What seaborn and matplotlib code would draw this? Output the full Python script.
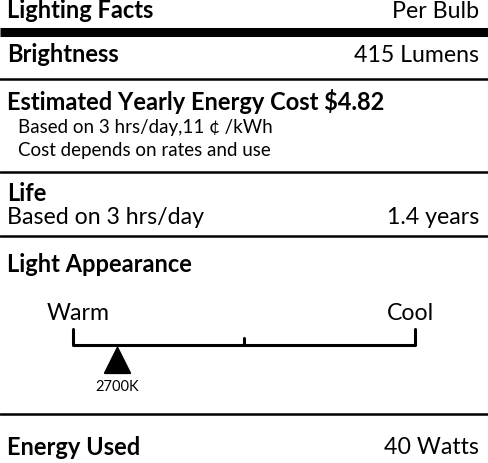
import matplotlib
matplotlib.use("Agg")
import matplotlib.pyplot as plt
import seaborn as sns
import pandas as pd

sns.set_theme(style="white")
plt.rcParams['font.family'] = ['Lato', 'DejaVu Sans']

title = "Lighting Facts"
per = "Per Bulb"
brightness_label = "Brightness"
brightness_value = "415 Lumens"
cost_label = "Estimated Yearly Energy Cost $4.82"
cost_notes = ["Based on 3 hrs/day,11 ¢ /kWh", "Cost depends on rates and use"]
life_label = "Life"
life_note = "Based on 3 hrs/day"
life_value = "1.4 years"
appearance_label = "Light Appearance"
scale_ends = ["Warm", "Cool"]
marker_label = "2700K"
marker_frac = [0.128]
energy_label = "Energy Used"
energy_value = "40 Watts"

fig = plt.figure(figsize=(4.88, 4.64), dpi=100)
ax = fig.add_axes([0, 0, 1, 1])
ax.set_xlim(0, 488)
ax.set_ylim(464, 0)
ax.axis("off")

L, R = 7, 479
B, N = 17, 16.7
def t(x, y, s, size, bold=False, ha="left"):
    ax.text(x, y, s, fontsize=size, fontweight="bold" if bold else "normal",
            ha=ha, va="center", color="black")

t(L, 11, title, B, True); t(R, 11, per, N, ha="right")
ax.plot([0, 488], [33, 33], color="black", lw=6.5, solid_capstyle="butt")
t(L, 55, brightness_label, B, True); t(R, 55, brightness_value, N, ha="right")
ax.plot([0, 488], [80, 80], color="black", lw=1.8)
t(L, 101, cost_label, B, True)
t(18, 128, cost_notes[0], 13.5); t(18, 151, cost_notes[1], 13.5)
ax.plot([0, 488], [173, 173], color="black", lw=1.8)
t(L, 194, life_label, B, True)
t(L, 218, life_note, N); t(R, 218, life_value, N, ha="right")
ax.plot([0, 488], [237, 237], color="black", lw=1.8)
t(L, 265, appearance_label, B, True)

x0, x1 = 73, 415
df = pd.DataFrame({"x": [x0, x0, x1, x1], "y": [330, 346, 346, 330]})
sns.lineplot(data=df, x="x", y="y", sort=False, estimator=None, color="black", lw=2.2, ax=ax)
ax.plot([(x0 + x1) / 2] * 2, [339, 346], color="black", lw=2.2)
t(x0 + 5, 314, scale_ends[0], N, ha="center"); t(x1 - 5, 314, scale_ends[1], N, ha="center")
mx = [x0 + f * (x1 - x0) for f in marker_frac]
sns.scatterplot(x=mx, y=[361], marker="^", s=330, color="black", edgecolor="black", ax=ax)
t(mx[0], 387, marker_label, 10.5, ha="center")
ax.plot([0, 488], [415, 415], color="black", lw=1.8)
t(L, 448, energy_label, B, True); t(R, 448, energy_value, N, ha="right")
ax.set_xlabel(""); ax.set_ylabel("")
fig.savefig("out.png", dpi=100)
